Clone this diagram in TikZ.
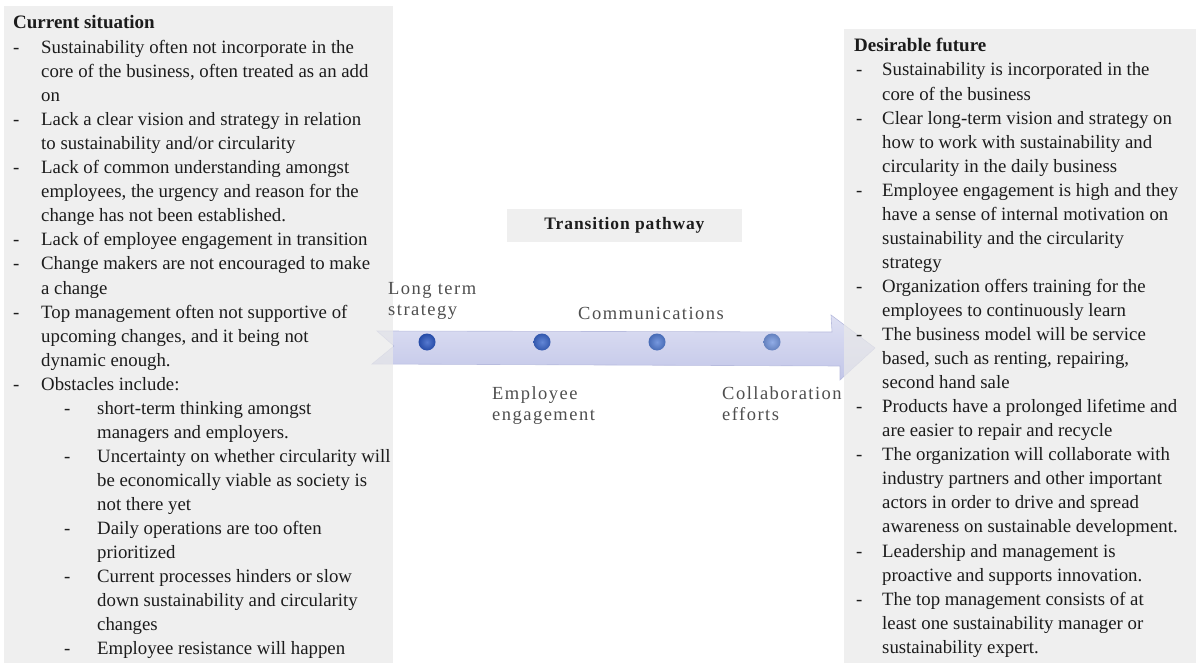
\documentclass[tikz,border=0pt]{standalone}
\usepackage{fontspec}
\setmainfont{Liberation Serif}
\newfontfamily\tagfont[LetterSpace=8]{Liberation Serif}
\newfontfamily\headfont[LetterSpace=5]{Liberation Serif}

\definecolor{panel}{RGB}{233,233,233}
\definecolor{titlebg}{RGB}{239,239,239}
\definecolor{ink}{RGB}{28,28,28}
\definecolor{tagink}{RGB}{78,78,78}
\definecolor{bandtop}{RGB}{222,224,243}
\definecolor{bandbot}{RGB}{194,198,232}
\definecolor{bandedge}{RGB}{184,188,222}
\definecolor{dotA}{RGB}{44,88,196}
\definecolor{dotB}{RGB}{60,104,204}
\definecolor{dotC}{RGB}{84,126,214}
\definecolor{dotD}{RGB}{118,152,224}

\begin{document}
\begin{tikzpicture}[x=1pt,y=-1pt,
  body/.style={font=\fontsize{18.8}{24}\selectfont, text=ink, anchor=base west, inner sep=0pt},
  bodyhead/.style={body, font=\fontsize{19}{24}\selectfont\bfseries},
  tag/.style={font=\tagfont\fontsize{18.5}{21}\selectfont, text=tagink, anchor=base west, inner sep=0pt},
  pathtitle/.style={fill=titlebg, minimum width=235pt, minimum height=33pt, inner sep=0pt,
    font=\headfont\bfseries\fontsize{17.5}{21}\selectfont, text=ink},
  milestone/.style={circle, minimum size=17pt, inner sep=0pt},
  band/.style={top color=bandtop, bottom color=bandbot, draw=bandedge, line width=0.6pt},
  panelbox/.style={fill=panel, fill opacity=0.72}
]
\useasboundingbox (0,0) rectangle (1196,663);

% the transition arrow
\path[band] (377,331) -- (832,332) -- (831,315) -- (875,348) -- (840,380)
  -- (840,366) -- (372,364) -- (394,346) -- cycle;

% the two panels
\fill[panelbox] (4,6) rectangle (393,663);
\fill[panelbox] (844,29) rectangle (1196,663);

% milestones on the arrow, each a softly lit disc
\foreach \c [count=\k] in {dotA,dotB,dotC,dotD} {
  \pgfmathsetmacro\mx{427+(\k-1)*115}
  \node[milestone, inner color=\c!80!white, outer color=\c!85!black] (m\k) at (\mx,342) {};
}

\node[tag] (t1) at (388,294) {\begin{tabular}[t]{@{}l@{}}Long term\\strategy\end{tabular}};
\node[tag] (t2) at (492,399) {\begin{tabular}[t]{@{}l@{}}Employee\\engagement\end{tabular}};
\node[tag] (t3) at (578,319) {Communications};
\node[tag] (t4) at (722,399) {\begin{tabular}[t]{@{}l@{}}Collaboration\\efforts\end{tabular}};

\node[pathtitle] (tp) at (624.5,225.5) {Transition pathway};

% current situation
\node[bodyhead] (curhead) at (13,29) {Current situation};
\foreach \dsh/\lvl/\words [count=\i from 0] in {
  1/1/{Sustainability often not incorporate in the},
  0/1/{core of the business, often treated as an add},
  0/1/{on},
  1/1/{Lack a clear vision and strategy in relation},
  0/1/{to sustainability and/or circularity},
  1/1/{Lack of common understanding amongst},
  0/1/{employees, the urgency and reason for the},
  0/1/{change has not been established.},
  1/1/{Lack of employee engagement in transition},
  1/1/{Change makers are not encouraged to make},
  0/1/{a change},
  1/1/{Top management often not supportive of},
  0/1/{upcoming changes, and it being not},
  0/1/{dynamic enough.},
  1/1/{Obstacles include:},
  1/2/{short-term thinking amongst},
  0/2/{managers and employers.},
  1/2/{Uncertainty on whether circularity will},
  0/2/{be economically viable as society is},
  0/2/{not there yet},
  1/2/{Daily operations are too often},
  0/2/{prioritized},
  1/2/{Current processes hinders or slow},
  0/2/{down sustainability and circularity},
  0/2/{changes},
  1/2/{Employee resistance will happen}} {
  \pgfmathsetmacro\yy{53.5+\i*24.05}
  \pgfmathsetmacro\tx{\lvl==1 ? 41 : 97}
  \pgfmathsetmacro\dx{\lvl==1 ? 13 : 64}
  \node[body] (cur\i) at (\tx,\yy) {\words};
  \ifnum\dsh=1 \node[body] (curdash\i) at (\dx,\yy) {-}; \fi
}

% desirable future
\node[bodyhead] (futhead) at (854,52) {Desirable future};
\foreach \dsh/\words [count=\i from 0] in {
  1/{Sustainability is incorporated in the},
  0/{core of the business},
  1/{Clear long-term vision and strategy on},
  0/{how to work with sustainability and},
  0/{circularity in the daily business},
  1/{Employee engagement is high and they},
  0/{have a sense of internal motivation on},
  0/{sustainability and the circularity},
  0/{strategy},
  1/{Organization offers training for the},
  0/{employees to continuously learn},
  1/{The business model will be service},
  0/{based, such as renting, repairing,},
  0/{second hand sale},
  1/{Products have a prolonged lifetime and},
  0/{are easier to repair and recycle},
  1/{The organization will collaborate with},
  0/{industry partners and other important},
  0/{actors in order to drive and spread},
  0/{awareness on sustainable development.},
  1/{Leadership and management is},
  0/{proactive and supports innovation.},
  1/{The top management consists of at},
  0/{least one sustainability manager or},
  0/{sustainability expert.}} {
  \pgfmathsetmacro\yy{76+\i*24.05}
  \node[body] (fut\i) at (882,\yy) {\words};
  \ifnum\dsh=1 \node[body] (futdash\i) at (856,\yy) {-}; \fi
}
\end{tikzpicture}
\end{document}
